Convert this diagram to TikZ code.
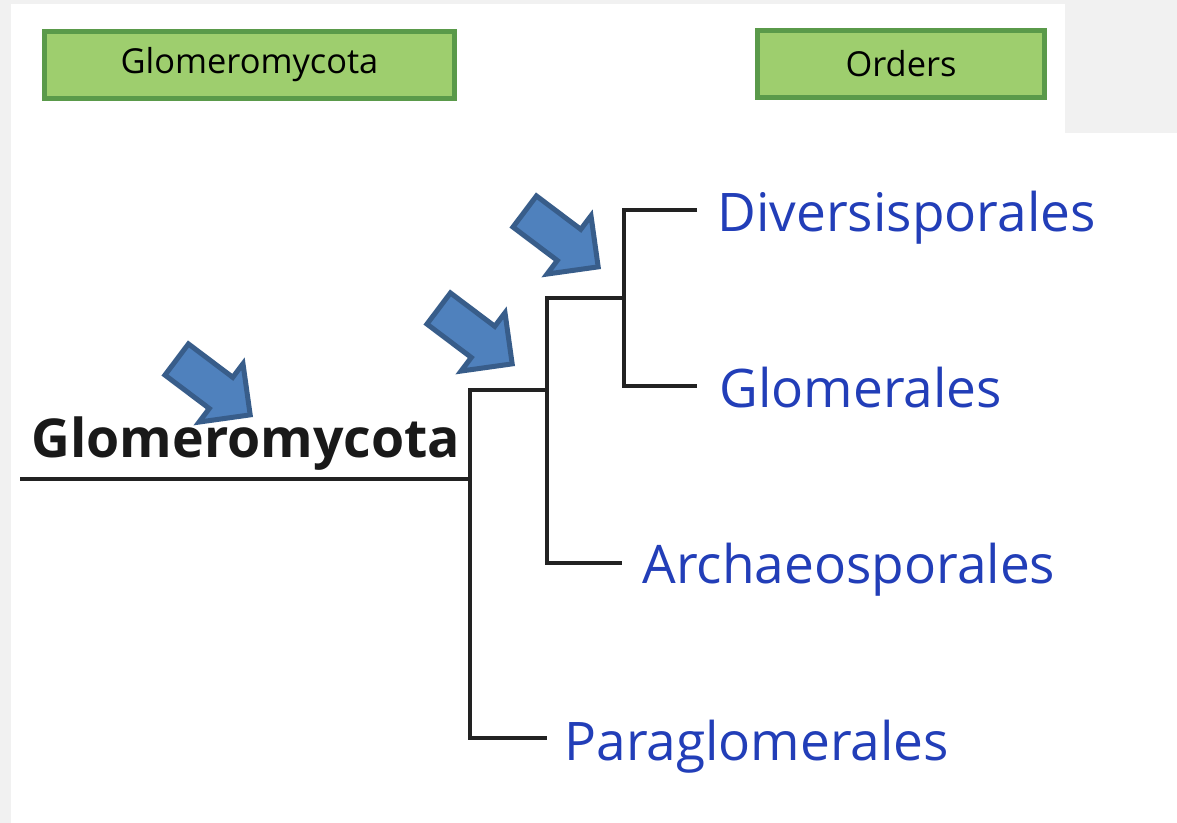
\documentclass[tikz,border=0pt]{standalone}
\usepackage{fontspec}
\setmainfont{Open Sans}
\usepackage{tikz}
\usetikzlibrary{shapes.arrows}

\definecolor{boxgreen}{RGB}{158,206,110}
\definecolor{boxedge}{RGB}{90,154,74}
\definecolor{arrowblue}{RGB}{79,129,189}
\definecolor{arrowedge}{RGB}{56,93,138}
\definecolor{ordblue}{RGB}{34,62,184}
\definecolor{marble}{RGB}{241,241,241}
\definecolor{linegray}{RGB}{34,34,34}

\tikzset{
  header/.style={draw=boxedge, fill=boxgreen, line width=2.5pt, minimum height=33.5pt,
    inner sep=0pt, font=\fontsize{17.2}{20}\selectfont},
  order/.style={anchor=base west, inner sep=0pt, text=ordblue, font=\fontsize{26.6}{30}\selectfont},
  branch/.style={draw=linegray, line width=1.75pt},
  pointer/.style={single arrow, draw=arrowedge, fill=arrowblue, line width=2.5pt,
    inner xsep=0pt, inner ysep=8.5pt, single arrow head extend=8.5pt,
    minimum height=46pt, rotate=-37, anchor=tip}
}

\begin{document}
\begin{tikzpicture}[x=0.5pt,y=-0.5pt]
\useasboundingbox (0,0) rectangle (1177,823);
\fill[marble] (0,0) rectangle (1177,823);
\fill[white] (11,4) rectangle (1177,823);
\fill[marble] (1065,0) rectangle (1177,133);

% headers
\node[header, minimum width=205pt] (hdrphylum) at (249.5,65) {Glomeromycota};
\node[header, minimum width=143.5pt] (hdrorders) at (901,64) {Orders};

% phylum
\node[anchor=base west, inner sep=0pt, text=black!90,
  font=\bfseries\fontsize{26.8}{30}\selectfont] (phylum) at (31,457) {Glomeromycota};

% orders
\node[order] (divers) at (717,232) {Diversisporales};
\node[order] (glom) at (719,408) {Glomerales};
\node[order] (archaeo) at (642,583) {Archaeosporales};
\node[order] (para) at (564,760) {Paraglomerales};

% tree
\coordinate (root) at (20,479);
\coordinate (g1) at (470,390);
\coordinate (j1) at (547,390);
\coordinate (pend) at (547,738);
\coordinate (g2) at (547,298);
\coordinate (j2) at (624,298);
\coordinate (aend) at (622,563);
\coordinate (g3) at (624,210);
\coordinate (dend) at (697,210);
\coordinate (glend) at (697,386);

\draw[branch] (root) -- (root -| g1);
\draw[branch] (j1) -- (g1) |- (pend);
\draw[branch] (j2) -- (g2) |- (aend);
\draw[branch] (dend) -- (g3) |- (glend);

% arrows
\node[pointer] (arr1) at (253,417) {};
\node[pointer] (arr2) at (515,366) {};
\node[pointer] (arr3) at (601,269) {};
\end{tikzpicture}
\end{document}
